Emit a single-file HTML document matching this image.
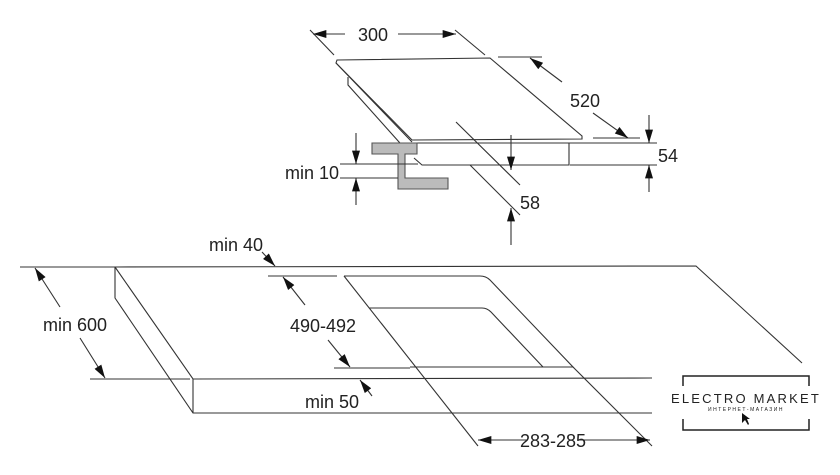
<!DOCTYPE html>
<html><head><meta charset="utf-8"><style>
html,body{margin:0;padding:0;background:#fff;}
svg{display:block}
text{font-family:"Liberation Sans",sans-serif;fill:#222;}
</style></head><body>
<svg width="840" height="475" viewBox="0 0 840 475" xmlns="http://www.w3.org/2000/svg">
<defs>
<marker id="a" viewBox="0 0 10 6" refX="10" refY="3" markerWidth="14" markerHeight="8" markerUnits="userSpaceOnUse" orient="auto"><path d="M0,0 L10,3 L0,6 Z" fill="#111"/></marker>
</defs>
<g stroke="#333" stroke-width="1.1" fill="none">
<!-- hob -->
<path d="M337,60 L490,58 L582,136 L582,139 L412,140 L336,63 Z" fill="#fff"/>
<path d="M336,63 L412,142"/>
<path d="M348,77 L348,85 L408,152"/>
<path d="M412,143 L582,143"/>
<path d="M569,143 L569,165 L422,165 L414,158"/>
<!-- bracket -->
<path d="M372,143 L417,143 L417,154 L405,154 L405,178 L448,178 L448,189 L398,189 L398,154 L372,154 Z" fill="#bbb" stroke="#555"/>
<!-- 300 -->
<path d="M310,30 L334,55 M455,30 L485,55"/>
<line x1="345" y1="34" x2="313" y2="34" marker-end="url(#a)"/>
<line x1="398" y1="34" x2="456" y2="34" marker-end="url(#a)"/>
<!-- 520 -->
<path d="M498,57 L542,57 M593,138 L640,138"/>
<line x1="562" y1="82" x2="530" y2="58" marker-end="url(#a)"/>
<line x1="593" y1="113" x2="628" y2="138" marker-end="url(#a)"/>
<!-- 54 -->
<path d="M582,143 L657,143 M570,165 L657,165"/>
<line x1="649" y1="115" x2="649" y2="143" marker-end="url(#a)"/>
<line x1="649" y1="192" x2="649" y2="165" marker-end="url(#a)"/>
<!-- min 10 -->
<path d="M340,164 L418,164 M340,178 L398,178"/>
<line x1="356" y1="133" x2="356" y2="164" marker-end="url(#a)"/>
<line x1="356" y1="205" x2="356" y2="178" marker-end="url(#a)"/>
<!-- 58 -->
<path d="M456,122 L520,185 M470,165 L520,215"/>
<line x1="511" y1="135" x2="511" y2="170" marker-end="url(#a)"/>
<line x1="511" y1="245" x2="511" y2="208" marker-end="url(#a)"/>
<!-- countertop -->
<path d="M115,267 L696,266 L802,363"/>
<path d="M115,267 L115,298 L193,413 L652,413"/>
<path d="M115,267 L193,379 L652,378"/>
<path d="M193,379 L193,413"/>
<!-- cutout -->
<path d="M344,276 L480,276 Q486,276 490,280 L573,367 L410,367"/>
<path d="M344,276 L478,446"/>
<path d="M573,367 L652,446"/>
<path d="M369,308 L482,308 Q487,308 491,312 L543,367"/>
<!-- dims bottom -->
<path d="M20,267 L115,267 M90,379 L190,379 M268,276 L337,276 M334,368 L410,368"/>
<line x1="60" y1="307" x2="35" y2="268" marker-end="url(#a)"/>
<line x1="80" y1="338" x2="105" y2="378" marker-end="url(#a)"/>
<line x1="305" y1="305" x2="283" y2="277" marker-end="url(#a)"/>
<line x1="328" y1="340" x2="350" y2="367" marker-end="url(#a)"/>
<line x1="262" y1="252" x2="275" y2="266" marker-end="url(#a)"/>
<line x1="372" y1="396" x2="360" y2="380" marker-end="url(#a)"/>
<line x1="528" y1="440" x2="478" y2="440" marker-end="url(#a)"/>
<line x1="578" y1="440" x2="650" y2="440" marker-end="url(#a)"/>
<!-- logo box -->
<path d="M683,386 L683,376 L809,376 L809,386 M683,419 L683,430 L809,430 L809,419" stroke="#222" stroke-width="1.5"/>
</g>
<g font-size="18">
<rect x="350" y="22" width="46" height="22" fill="#fff"/>
<text x="373" y="41" text-anchor="middle">300</text>
<text x="585" y="107" text-anchor="middle">520</text>
<text x="668" y="162" text-anchor="middle">54</text>
<text x="312" y="179" text-anchor="middle">min 10</text>
<text x="530" y="209" text-anchor="middle">58</text>
<text x="236" y="251" text-anchor="middle">min 40</text>
<text x="75" y="331" text-anchor="middle">min 600</text>
<text x="323" y="332" text-anchor="middle">490-492</text>
<text x="332" y="408" text-anchor="middle">min 50</text>
<rect x="528" y="429" width="50" height="22" fill="#fff"/>
<text x="553" y="447" text-anchor="middle">283-285</text>
</g>
<text x="746" y="403" text-anchor="middle" font-size="13" letter-spacing="2.2">ELECTRO MARKET</text>
<text x="746" y="411" text-anchor="middle" font-size="5" letter-spacing="1.5" fill="#666">ИНТЕРНЕТ-МАГАЗИН</text>
<path d="M742,413 L742,423 L745,420 L748,425 L749,424 L747,419 L750,419 Z" fill="#111"/>
</svg>
</body></html>
